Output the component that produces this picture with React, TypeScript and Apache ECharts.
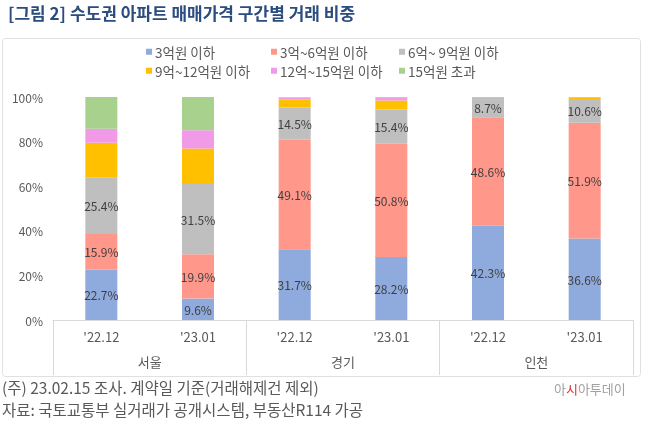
import React, { useEffect, useRef } from "react";
import * as echarts from "echarts";

const categories = ["'22.12", "'23.01", "'22.12", "'23.01", "'22.12", "'23.01"];
const regions = ["서울", "경기", "인천"];
const seriesNames = ["3억원 이하", "3억~6억원 이하", "6억~ 9억원 이하", "9억~12억원 이하", "12억~15억원 이하", "15억원 초과"];
const under3 = [22.7, 9.6, 31.7, 28.2, 42.3, 36.6];
const from3to6 = [15.9, 19.9, 49.1, 50.8, 48.6, 51.9];
const from6to9 = [25.4, 31.5, 14.5, 15.4, 8.7, 10.6];
const from9to12 = [15.5, 15.9, 3.5, 4.0, 0.4, 0.8];
const from12to15 = [6.3, 8.2, 1.0, 1.3, 0.0, 0.05];
const over15 = [14.2, 14.9, 0.2, 0.3, 0.0, 0.05];
const colors = ["#8FAADC", "#FF978A", "#BFBFBF", "#FFC000", "#F09AE8", "#A9D18E"];
const labeled = [true, true, true, false, false, false];

const FONT = "'Noto Sans CJK KR', 'Noto Sans', sans-serif";

export default function App() {
  const ref = useRef<HTMLDivElement>(null);
  useEffect(() => {
    if (!ref.current) return;
    const chart = echarts.init(ref.current, null, { renderer: "svg" });
    const values = [under3, from3to6, from6to9, from9to12, from12to15, over15];
    const legendPos = [
      [146, 45], [271, 45], [399, 45],
      [146, 64], [271, 64], [399, 64],
    ];
    chart.setOption({
      animation: false,
      textStyle: { fontFamily: FONT },
      color: colors,
      legend: seriesNames.map((n, i) => ({
        data: [n],
        left: legendPos[i][0],
        top: legendPos[i][1],
        padding: 0,
        itemWidth: 6,
        itemHeight: 6,
        icon: "rect",
        selectedMode: false,
        textStyle: { fontSize: 13.5, color: "#595959", fontFamily: FONT, padding: [0, 0, 0, -2] },
      })),
      grid: { left: 53, right: 14, top: 97, bottom: 102, containLabel: false },
      xAxis: [
        {
          type: "category",
          data: categories,
          axisLine: { show: true, lineStyle: { color: "#D9D9D9", width: 1 } },
          axisTick: { show: false },
          axisLabel: { fontSize: 13, color: "#595959", margin: 10, fontFamily: FONT },
        },
        {
          type: "category",
          data: regions,
          position: "bottom",
          axisLine: { show: false },
          axisTick: { show: true, length: 55, lineStyle: { color: "#D9D9D9" } },
          axisLabel: { fontSize: 13, color: "#595959", margin: 35, fontFamily: FONT },
        },
      ],
      yAxis: {
        type: "value",
        min: 0,
        max: 100,
        interval: 20,
        axisLine: { show: false },
        axisTick: { show: false },
        splitLine: { show: false },
        axisLabel: { formatter: "{value}%", fontSize: 12, color: "#595959", margin: 10, fontFamily: FONT },
      },
      series: seriesNames.map((n, i) => ({
        name: n,
        type: "bar",
        stack: "total",
        barWidth: 32,
        data: values[i],
        itemStyle: { color: colors[i] },
        label: {
          show: labeled[i],
          position: "inside",
          formatter: (p: any) => p.value.toFixed(1) + "%",
          fontSize: 12,
          color: "#404040",
          fontFamily: FONT,
        },
      })),
      graphic: [
        {
          type: "rect",
          shape: { x: 2.5, y: 38.5, width: 638, height: 338, r: 3 },
          style: { fill: "none", stroke: "#E0E0E0", lineWidth: 1 },
          silent: true,
        },
        {
          type: "text",
          left: 8,
          top: 4,
          style: {
            text: "[그림 2] 수도권 아파트 매매가격 구간별 거래 비중",
            font: `bold 17px ${FONT}`,
            fill: "#2B4C7E",
          },
        },
        {
          type: "text",
          left: 2,
          top: 379,
          style: {
            text: "(주) 23.02.15 조사. 계약일 기준(거래해제건 제외)",
            font: `15.5px ${FONT}`,
            fill: "#595959",
          },
        },
        {
          type: "text",
          left: 2,
          top: 401,
          style: {
            text: "자료: 국토교통부 실거래가 공개시스템, 부동산R114 가공",
            font: `15.5px ${FONT}`,
            fill: "#595959",
          },
        },
        {
          type: "text",
          left: 554,
          top: 382,
          style: {
            text: "{g|아}{r|시}{g|아투데이}",
            rich: {
              g: { fill: "#A0A0A0", font: `13px ${FONT}` },
              r: { fill: "#E03030", font: `13px ${FONT}` },
            },
          },
        },
      ],
    });
    return () => chart.dispose();
  }, []);
  return <div ref={ref} style={{ width: 647, height: 422, position: "fixed", left: 0, top: 0 }} />;
}
